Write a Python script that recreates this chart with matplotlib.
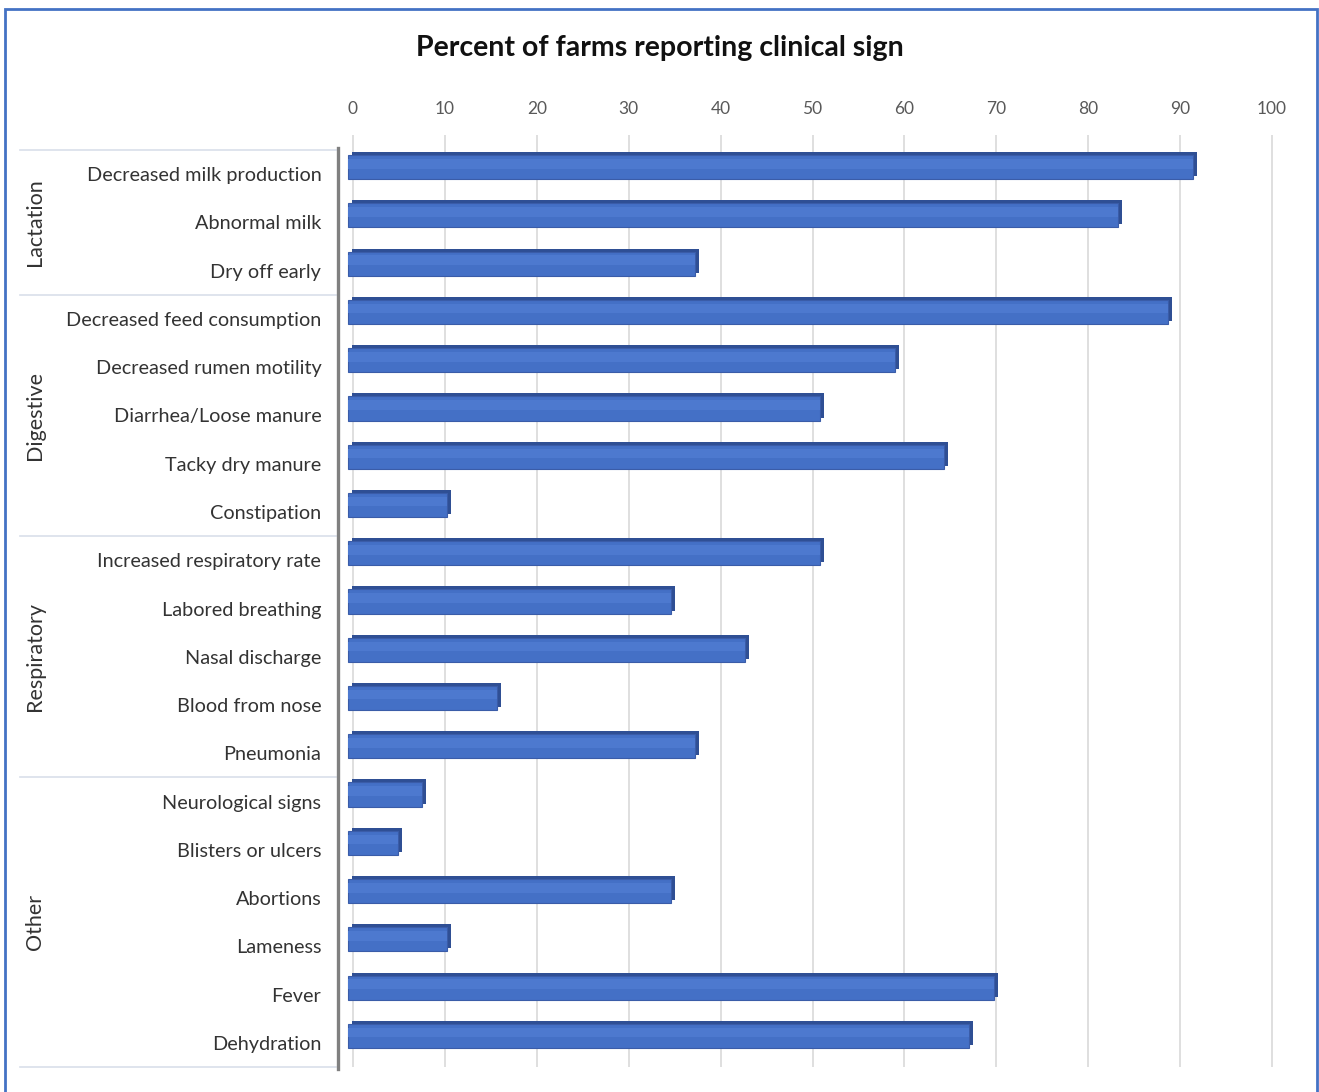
import matplotlib
matplotlib.use("Agg")
import matplotlib.pyplot as plt
from matplotlib.patches import Rectangle
from matplotlib.transforms import offset_copy, blended_transform_factory

plt.rcParams['font.family'] = ['Lato', 'DejaVu Sans']

signs = ["Decreased milk production", "Abnormal milk", "Dry off early",
         "Decreased feed consumption", "Decreased rumen motility",
         "Diarrhea/Loose manure", "Tacky dry manure", "Constipation",
         "Increased respiratory rate", "Labored breathing", "Nasal discharge",
         "Blood from nose", "Pneumonia",
         "Neurological signs", "Blisters or ulcers", "Abortions", "Lameness",
         "Fever", "Dehydration"]
percent = [91.9, 83.8, 37.8,
           89.2, 59.5, 51.4, 64.9, 10.8,
           51.4, 35.1, 43.2, 16.2, 37.8,
           8.1, 5.4, 35.1, 10.8, 70.3, 67.6]
groups = ["Lactation", "Digestive", "Respiratory", "Other"]
group_sizes = [3, 5, 5, 6]
xticks = list(range(0, 101, 10))

W, H = 1319, 1092
fig = plt.figure(figsize=(W / 100, H / 100), dpi=100)

# axes box in pixels: left 338, right 1281, top 135, bottom 1067
ax = fig.add_axes([338 / W, 1 - 1067 / H, (1281 - 338) / W, (1067 - 135) / H])
px = 9.19  # pixels per percent
ax.set_xlim(-15 / px, (1281 - 353) / px)
ax.set_ylim(len(signs) - 0.5, -0.5 - 15 / 48.26)

for s in ax.spines.values():
    s.set_visible(False)

ax.xaxis.tick_top()
ax.set_xticks(xticks)
ax.set_xticklabels([str(t) for t in xticks])
ax.tick_params(axis='x', length=0, pad=13, labelsize=12.5, labelcolor='#595959')
ax.set_yticks(range(len(signs)))
ax.set_yticklabels(signs)
ax.tick_params(axis='y', length=0, pad=12, labelsize=14.3, labelcolor='#333333')
ax.grid(axis='x', color='#D9D9D9', linewidth=1.2)
ax.set_axisbelow(True)

# 3D-ish bars: darker back slab offset up/right, front face on top
ypos = list(range(len(signs)))
back_tr = offset_copy(ax.transData, fig=fig, x=-1, y=10, units='dots')
front_tr = offset_copy(ax.transData, fig=fig, x=-5, y=7, units='dots')
ax.barh(ypos, percent, height=0.5, color='#2F4F94', transform=back_tr, zorder=2)
ax.barh(ypos, percent, height=0.5, color='#4470C6', edgecolor='#3A5CA8',
        linewidth=0.8, transform=front_tr, zorder=3)
ax.barh([y - 0.07 for y in ypos], percent, height=0.2, color='#4D79CF',
        transform=front_tr, zorder=4)

# left axis line
ax.plot([0, 0], [-0.55, len(signs) - 0.45], color='#808080', linewidth=2.4,
        transform=blended_transform_factory(ax.transAxes, ax.transData),
        clip_on=False, zorder=5)

# group separators and labels
sep_tr = blended_transform_factory(fig.transFigure, ax.transData)
start = 0
bounds = [-0.5]
for g, n in zip(groups, group_sizes):
    mid = start + (n - 1) / 2
    ax.text(35 / W, mid, g, rotation=90, ha='center', va='center', fontsize=15.5,
            color='#333333', transform=sep_tr)
    start += n
    bounds.append(start - 0.5)
for b in bounds:
    ax.plot([20 / W, 336 / W], [b, b], color='#D9DFEA', linewidth=1.2,
            transform=sep_tr, clip_on=False)

fig.text(660 / W, 1 - 48 / H, "Percent of farms reporting clinical sign",
         ha='center', va='center', fontsize=20.5, fontweight='bold', color='#111111')

# outer border
fig.patches.append(Rectangle((5 / W, -0.05), (1317 - 5) / W, 1.05 - 9 / H,
                             transform=fig.transFigure, fill=False,
                             edgecolor='#4472C4', linewidth=2))

fig.savefig("out.png", dpi=100)
